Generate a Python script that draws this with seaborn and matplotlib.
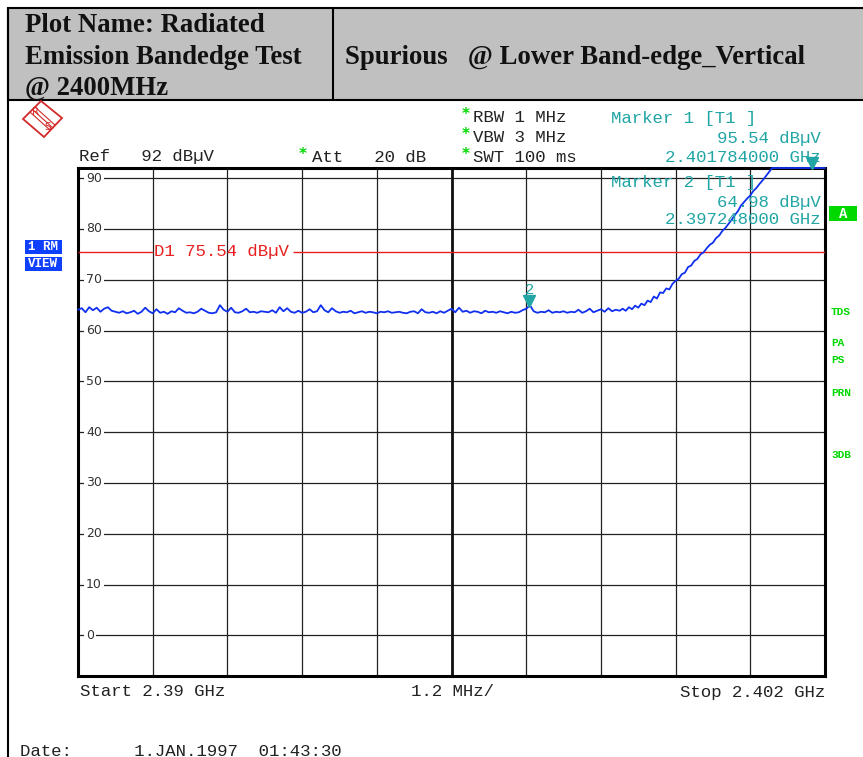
import matplotlib

matplotlib.use("Agg")
import matplotlib.pyplot as plt  # noqa: E402
from matplotlib.patches import Polygon, Rectangle  # noqa: E402
import numpy as np
import pandas as pd
import seaborn as sns

# sweep settings (MHz / dBuV)
F_START = 2390.0
F_STOP = 2402.0
REF_LEVEL = 92.0
BOTTOM_LEVEL = -8.0
DISPLAY_LINE = 75.54

# noise floor, one reading every 0.06 MHz from 2390.00 to 2398.70
FLOOR_STEP = 0.06
floor_levels = [
    64.1, 64.4, 63.6, 64.6, 64.0, 64.5, 63.7, 64.3, 64.6, 63.9,
    63.7, 63.5, 63.8, 63.4, 63.6, 63.9, 63.3, 63.7, 64.5, 63.8,
    63.4, 64.2, 63.5, 63.7, 63.3, 63.8, 63.6, 64.4, 63.9, 63.5,
    63.6, 63.4, 63.7, 64.3, 63.9, 63.5, 63.4, 63.6, 65.0, 64.1,
    63.7, 64.5, 63.6, 63.5, 63.8, 64.3, 63.6, 63.7, 63.5, 63.8,
    63.7, 63.6, 64.0, 63.5, 64.6, 63.8, 64.4, 63.7, 63.5, 63.9,
    63.5, 63.7, 64.2, 63.6, 63.8, 65.0, 64.0, 63.6, 64.4, 63.8,
    63.5, 63.7, 63.6, 63.9, 63.4, 63.6, 63.8, 63.5, 63.7, 63.6,
    63.4, 63.7, 63.6, 63.8, 63.5, 63.6, 63.7, 63.5, 63.4, 63.7,
    63.8, 63.4, 64.2, 63.6, 63.5, 63.7, 63.4, 63.8, 63.5, 63.9,
    64.3, 63.6, 64.5, 63.7, 63.9, 63.5, 63.8, 63.7, 63.4, 63.9,
    63.6, 63.7, 63.5, 63.8, 63.6, 63.4, 63.7, 63.5, 63.6, 64.0,
    64.3, 64.98, 63.8, 63.5, 63.7, 63.6, 64.0, 63.5, 63.7, 63.6,
    63.8, 63.5, 63.7, 63.6, 64.1, 63.5, 63.8, 64.3, 63.6, 63.9,
    64.2, 63.7, 64.4, 63.8, 64.1, 63.9,
]

# band edge skirt
edge_freqs = [
    2398.75, 2398.80, 2398.85, 2398.90, 2398.95, 2399.00, 2399.05, 2399.10,
    2399.15, 2399.20, 2399.25, 2399.30, 2399.35, 2399.40, 2399.45, 2399.50,
    2399.55, 2399.60, 2399.65, 2399.70, 2399.75, 2399.80, 2399.85, 2399.90,
    2399.95, 2400.00, 2400.05, 2400.10, 2400.15, 2400.20, 2400.25, 2400.30,
    2400.35, 2400.40, 2400.45, 2400.50, 2400.55, 2400.60, 2400.65, 2400.70,
    2400.75, 2400.80, 2400.85, 2400.90, 2400.95, 2401.00, 2401.05, 2401.10,
    2401.15, 2402.00,
]
edge_levels = [
    64.3, 63.9, 64.6, 64.2, 64.9, 64.5, 65.3, 65.0,
    65.9, 65.6, 66.7, 66.3, 67.5, 67.4, 68.3, 68.1,
    69.2, 69.8, 70.2, 71.1, 71.4, 72.5, 72.8, 73.7,
    74.1, 75.0, 75.4, 76.2, 76.9, 77.3, 78.2, 78.7,
    79.6, 80.2, 81.0, 81.8, 82.7, 83.5, 84.6, 85.3,
    86.0, 86.6, 87.5, 88.1, 88.9, 89.6, 90.4, 91.2,
    92.0, 92.0,
]

marker_freqs = [2401.784, 2397.248]
marker_levels = [95.54, 64.98]

y_ticks = [0, 10, 20, 30, 40, 50, 60, 70, 80, 90]

TEAL = "#22a5a5"
TRACE = "#1030f0"
GREEN = "#00d800"
MONO = "Liberation Mono"

floor_freqs = F_START + FLOOR_STEP * np.arange(len(floor_levels))
trace = pd.DataFrame({
    "freq": np.concatenate([floor_freqs, edge_freqs]),
    "level": np.concatenate([floor_levels, edge_levels]),
})

sns.set_theme(style="white")
plt.rcParams["font.family"] = ["DejaVu Sans"]

W, H = 863, 757
fig = plt.figure(figsize=(W / 100, H / 100), dpi=100)

# spectrum display
ax = fig.add_axes([78 / W, 1 - 676 / H, (825 - 78) / W, (676 - 168) / H], zorder=1)
sns.lineplot(data=trace, x="freq", y="level", ax=ax, color=TRACE, lw=1.3,
             estimator=None, sort=False, zorder=4)
ax.lines[0].set_clip_on(False)
ax.set_xlim(F_START, F_STOP)
ax.set_ylim(BOTTOM_LEVEL, REF_LEVEL)
ax.set_xticks(np.linspace(F_START, F_STOP, 11))
ax.set_yticks(y_ticks)
ax.tick_params(length=0, labelbottom=False, labelleft=False)
ax.set_xlabel("")
ax.set_ylabel("")
ax.grid(True, color="#222222", lw=0.9)
ax.set_axisbelow(True)
ax.axvline((F_START + F_STOP) / 2, color="#111111", lw=2.0, zorder=1)
for s in ax.spines.values():
    s.set_color("black")
    s.set_linewidth(2.2)

# display line D1, broken where its label sits
ax.hlines(DISPLAY_LINE, F_START, 2391.2, color="#e82020", lw=1.0, zorder=3)
ax.hlines(DISPLAY_LINE, 2393.45, F_STOP, color="#e82020", lw=1.0, zorder=3)
ax.text(2391.22, DISPLAY_LINE, f"D1 {DISPLAY_LINE:.2f} dBµV", color="#e82020",
        family=MONO, fontsize=12.5, va="center", ha="left", zorder=3)

for v in y_ticks:
    ax.text(2390.13, v, str(v), fontsize=9, color="#333333", va="center", ha="left",
            zorder=3, bbox=dict(facecolor="white", edgecolor="none", pad=1.2))

# markers
ax.plot([marker_freqs[0]], [REF_LEVEL + 1.0], marker="v", ms=8, color=TEAL,
        clip_on=False, zorder=6, ls="none")
ax.plot([marker_freqs[1]], [marker_levels[1] + 0.8], marker="v", ms=8, color=TEAL,
        clip_on=False, zorder=6, ls="none")
ax.text(marker_freqs[1], marker_levels[1] + 1.7, "2", color=TEAL, family=MONO,
        fontsize=11, ha="center", va="bottom", zorder=6)

# page decoration in pixel coordinates
ov = fig.add_axes([0, 0, 1, 1], zorder=2)
ov.set_xlim(0, W)
ov.set_ylim(H, 0)
ov.axis("off")
ov.patch.set_visible(False)

ov.add_patch(Rectangle((8, 8), 880, 92, facecolor="#c0c0c0", edgecolor="black", lw=1.5))
ov.plot([333, 333], [8, 100], color="black", lw=1.5)
ov.plot([8, 8], [8, H + 5], color="black", lw=1.5)

hdr = dict(family="Liberation Serif", fontweight="bold", fontsize=19.3, color="#111111",
           va="center", ha="left")
ov.text(25, 25, "Plot Name: Radiated", **hdr)
ov.text(25, 57, "Emission Bandedge Test", **hdr)
ov.text(25, 88, "@ 2400MHz", **hdr)
ov.text(345, 57, "Spurious   @ Lower Band-edge_Vertical", **hdr)

# R&S logo
red = "#d42a2a"
ov.add_patch(Polygon([(23, 119), (41, 101), (62, 118), (44, 137)], closed=True,
                     fill=False, edgecolor=red, lw=1.3))
for d in (-2.5, 0, 2.5):
    ov.plot([33 + d, 53 + d], [110 - d, 128 - d], color=red, lw=0.8)
ov.text(36, 112, "R", color=red, fontsize=7.5, ha="center", va="center")
ov.text(48, 127, "S", color=red, fontsize=7.5, ha="center", va="center")

mono = dict(family=MONO, fontsize=12.5, va="center")
ov.text(79, 157, "Ref   92 dBµV", color="#222222", ha="left", **mono)
ov.text(312, 157, "Att   20 dB", color="#222222", ha="left", **mono)
for y, s in [(118, "RBW 1 MHz"), (138, "VBW 3 MHz"), (157, "SWT 100 ms")]:
    ov.text(473, y, s, color="#222222", ha="left", **mono)
for x, y in [(303, 154), (466, 115), (466, 135), (466, 154)]:
    ov.text(x, y, "*", color=GREEN, fontsize=11, fontweight="bold", ha="center", va="center")

ov.text(611, 118, "Marker 1 [T1 ]", color=TEAL, ha="left", **mono)
ov.text(821, 138, f"{marker_levels[0]:.2f} dBµV", color=TEAL, ha="right", **mono)
ov.text(821, 157, f"{marker_freqs[0] / 1000:.9f} GHz", color=TEAL, ha="right", **mono)
ov.text(611, 182, "Marker 2 [T1 ]", color=TEAL, ha="left", **mono)
ov.text(821, 202, f"{marker_levels[1]:.2f} dBµV", color=TEAL, ha="right", **mono)
ov.text(821, 220, f"{marker_freqs[1] / 1000:.9f} GHz", color=TEAL, ha="right", **mono)

ov.text(80, 692, f"Start {F_START / 1000:.2f} GHz", color="#222222", ha="left", **mono)
ov.text(452, 692, "1.2 MHz/", color="#222222", ha="center", **mono)
ov.text(825, 692, f"Stop {F_STOP / 1000:.3f} GHz", color="#222222", ha="right", **mono)
ov.text(20, 752, "Date:      1.JAN.1997  01:43:30", color="#222222", ha="left", **mono)

# side soft keys
ov.add_patch(Rectangle((25, 240), 37, 14, facecolor="#1040ff", edgecolor="none"))
ov.add_patch(Rectangle((25, 257), 37, 14, facecolor="#1040ff", edgecolor="none"))
ov.text(43, 247, "1 RM", color="white", family=MONO, fontsize=9, fontweight="bold",
        ha="center", va="center")
ov.text(43, 264, "VIEW", color="white", family=MONO, fontsize=9, fontweight="bold",
        ha="center", va="center")

ov.add_patch(Rectangle((829, 206), 28, 15, facecolor=GREEN, edgecolor="none"))
ov.text(843, 214, "A", color="white", family=MONO, fontsize=10, fontweight="bold",
        ha="center", va="center")
for y, s in [(312, "TDS"), (343, "PA"), (360, "PS"), (393, "PRN"), (455, "3DB")]:
    ov.text(831, y, s, color=GREEN, family=MONO, fontsize=8, fontweight="bold",
            ha="left", va="center")

fig.savefig("out.png", dpi=100)
plt.close(fig)
